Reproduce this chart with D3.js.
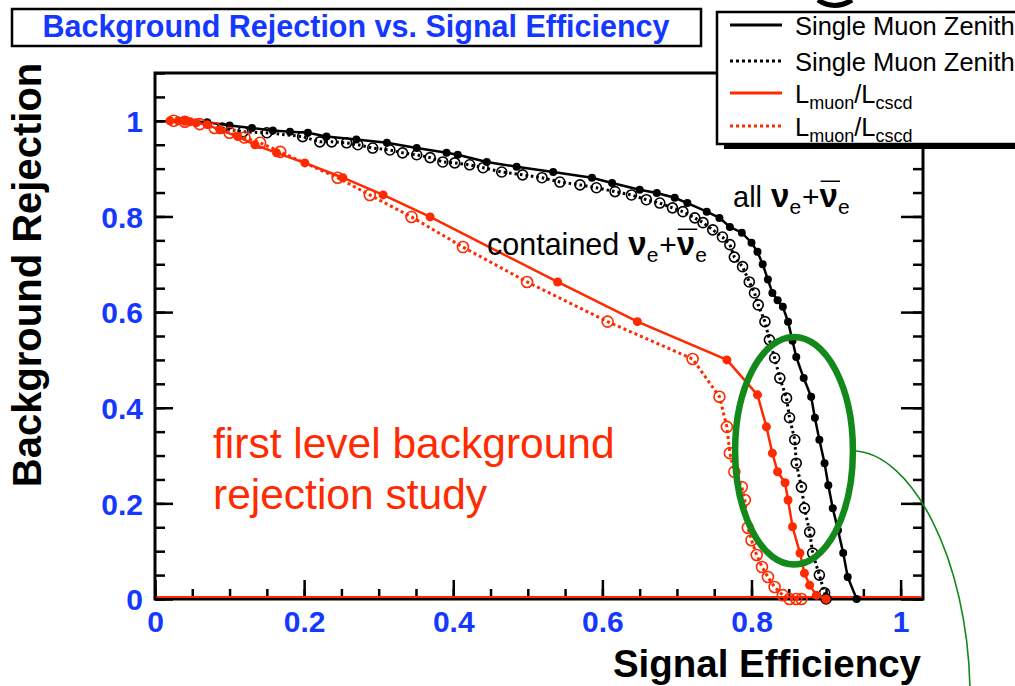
<!DOCTYPE html>
<html><head><meta charset="utf-8">
<script src="https://cdn.jsdelivr.net/npm/d3@7"></script>
<style>body{margin:0;background:#fff} svg{display:block} text{font-family:"Liberation Sans",Arial,Helvetica,sans-serif;white-space:pre}</style>
</head><body><svg id="c" width="1015" height="686"></svg>
<script>
// ---------- data ----------
const xTicks = [0, 0.2, 0.4, 0.6, 0.8, 1];
const xTickLabels = ["0", "0.2", "0.4", "0.6", "0.8", "1"];
const yTicks = [0, 0.2, 0.4, 0.6, 0.8, 1];
const yTickLabels = ["0", "0.2", "0.4", "0.6", "0.8", "1"];

const titleText = "Background Rejection vs. Signal Efficiency";
const xAxisTitle = "Signal Efficiency";
const yAxisTitle = "Background Rejection";

// Single Muon Zenith, all nu_e (black solid, filled)
const zenAllX = [0.04,0.07,0.10,0.13,0.158,0.181,0.205,0.23,0.27,0.311,0.351,0.391,0.406,0.445,0.485,0.534,0.586,0.613,0.65,0.673,0.697,0.714,0.74,0.757,0.771,0.787,0.80,0.808,0.815,0.822,0.828,0.835,0.842,0.849,0.855,0.86,0.87,0.88,0.885,0.891,0.898,0.903,0.909,0.916,0.923,0.929,0.941];
const zenAllY = [1.0,0.997,0.99,0.985,0.98,0.977,0.975,0.967,0.961,0.954,0.943,0.933,0.929,0.914,0.904,0.893,0.881,0.870,0.856,0.849,0.839,0.828,0.81,0.797,0.778,0.766,0.745,0.726,0.70,0.668,0.64,0.625,0.611,0.58,0.54,0.506,0.462,0.423,0.379,0.333,0.284,0.238,0.19,0.144,0.096,0.046,0.0];

// Single Muon Zenith, contained nu_e (black dotted, open)
const zenContX = [0.09,0.118,0.15,0.198,0.221,0.237,0.257,0.272,0.292,0.315,0.332,0.351,0.369,0.386,0.402,0.422,0.44,0.465,0.493,0.519,0.543,0.57,0.592,0.617,0.639,0.659,0.677,0.694,0.708,0.724,0.735,0.748,0.761,0.771,0.777,0.788,0.797,0.804,0.809,0.818,0.824,0.831,0.838,0.847,0.851,0.858,0.86,0.867,0.871,0.878,0.882,0.891,0.898,0.90];
const zenContY = [0.985,0.977,0.975,0.967,0.956,0.956,0.954,0.95,0.943,0.939,0.933,0.929,0.923,0.914,0.912,0.908,0.902,0.893,0.887,0.881,0.872,0.866,0.860,0.852,0.845,0.835,0.828,0.818,0.81,0.797,0.787,0.772,0.757,0.741,0.715,0.695,0.663,0.64,0.615,0.58,0.542,0.504,0.462,0.42,0.379,0.333,0.284,0.234,0.19,0.14,0.096,0.05,0.013,0.0];

// L_muon/L_cscd, all (red solid, filled)
const likAllX = [0.02,0.031,0.04,0.047,0.055,0.07,0.087,0.111,0.134,0.163,0.201,0.252,0.306,0.369,0.54,0.647,0.767,0.808,0.82,0.828,0.835,0.845,0.849,0.855,0.865,0.871,0.878,0.887,0.90];
const likAllY = [1.0,1.0,0.999,0.998,0.996,0.992,0.981,0.967,0.95,0.933,0.912,0.881,0.845,0.799,0.663,0.58,0.50,0.427,0.36,0.305,0.266,0.243,0.207,0.151,0.096,0.054,0.029,0.008,0.0];

// L_muon/L_cscd, contained (red dotted, open)
const likContX = [0.025,0.04,0.06,0.08,0.10,0.12,0.141,0.168,0.245,0.288,0.344,0.413,0.499,0.607,0.721,0.757,0.767,0.771,0.777,0.787,0.791,0.795,0.80,0.807,0.814,0.822,0.831,0.842,0.851,0.86,0.867];
const likContY = [1.0,0.998,0.993,0.985,0.975,0.965,0.954,0.935,0.881,0.845,0.799,0.736,0.663,0.58,0.502,0.423,0.36,0.305,0.266,0.234,0.207,0.149,0.123,0.092,0.067,0.046,0.025,0.008,0.0,0.0,0.0];

const legendLabels = ["Single Muon Zenith", "Single Muon Zenith", "L|muon|/L|cscd", "L|muon|/L|cscd"];

// ---------- styles ----------
const RED = "#ff2a00", BLUE = "#1438ff", GREEN = "#12891a";

const svg = d3.select("#c");
const x = d3.scaleLinear().domain([0, 1.03]).range([155, 923]);
const y = d3.scaleLinear().domain([0, 1.1]).range([599, 73]);

// frame
svg.append("rect").attr("x", x(0)).attr("y", y(1.1)).attr("width", x(1.03) - x(0)).attr("height", y(0) - y(1.1))
  .attr("fill", "none").attr("stroke", "#000").attr("stroke-width", 3);

// axes
function styleAxis(g) {
  g.select(".domain").remove();
  g.selectAll(".tick line").attr("stroke", "#000").attr("stroke-width", 2.5);
  g.selectAll(".tick text").attr("fill", BLUE).attr("font-weight", "bold").attr("font-size", 30)
    .attr("font-family", '"Liberation Sans",Arial,sans-serif');
}
const minorX = d3.range(0, 1.0001, 0.05);
const minorY = d3.range(0, 1.1001, 0.05);

svg.append("g").attr("transform", `translate(0,${y(0)})`)
  .call(d3.axisBottom(x).tickValues(minorX).tickSize(-10).tickFormat(""))
  .call(styleAxis);
svg.append("g").attr("transform", `translate(0,${y(0)})`)
  .call(d3.axisBottom(x).tickValues(xTicks).tickSize(-19).tickPadding(12).tickFormat((d, i) => xTickLabels[i]))
  .call(styleAxis);
svg.append("g").attr("transform", `translate(${x(0)},0)`)
  .call(d3.axisLeft(y).tickValues(minorY).tickSize(-10).tickFormat(""))
  .call(styleAxis);
svg.append("g").attr("transform", `translate(${x(0)},0)`)
  .call(d3.axisLeft(y).tickValues(yTicks).tickSize(-18).tickPadding(12).tickFormat((d, i) => yTickLabels[i]))
  .call(styleAxis)
  .selectAll(".tick text").attr("dy", "0.36em");
svg.append("g").attr("transform", `translate(${x(1.03)},0)`)
  .call(d3.axisRight(y).tickValues(minorY).tickSize(-10).tickFormat(""))
  .call(styleAxis);
svg.append("g").attr("transform", `translate(${x(1.03)},0)`)
  .call(d3.axisRight(y).tickValues(yTicks).tickSize(-22).tickFormat(""))
  .call(styleAxis);

// red baseline along zero
svg.append("line").attr("x1", x(0) + 1.5).attr("x2", x(1.03) - 1.5).attr("y1", y(0) - 2).attr("y2", y(0) - 2)
  .attr("stroke", RED).attr("stroke-width", 2);

// series
const series = [
  {xs: zenAllX, ys: zenAllY, color: "#000", dash: null, w: 2.5, filled: true, r: 4},
  {xs: zenContX, ys: zenContY, color: "#000", dash: "2.5,3", w: 3, filled: false, r: 5},
  {xs: likContX, ys: likContY, color: RED, dash: "3,3", w: 3, filled: false, r: 5.5},
  {xs: likAllX, ys: likAllY, color: RED, dash: null, w: 2.5, filled: true, r: 4.5}
];
const line = d3.line().x(d => x(d[0])).y(d => y(d[1]));
series.forEach(s => {
  const pts = s.xs.map((v, i) => [v, s.ys[i]]);
  const g = svg.append("g");
  g.append("path").datum(pts).attr("d", line).attr("fill", "none").attr("stroke", s.color)
    .attr("stroke-width", s.w).attr("stroke-dasharray", s.dash);
  g.selectAll("circle").data(pts).join("circle")
    .attr("cx", d => x(d[0])).attr("cy", d => y(d[1])).attr("r", s.r)
    .attr("fill", s.filled ? s.color : "none").attr("stroke", s.color).attr("stroke-width", s.filled ? 0 : 1.6);
});

// text helper with segments
function richText(x0, y0, segs, color) {
  let cx = x0;
  segs.forEach(sg => {
    const t = svg.append("text").attr("x", cx).attr("y", y0 + (sg.dy || 0)).attr("font-size", sg.size)
      .attr("font-weight", sg.bold ? "bold" : "normal").attr("fill", color).text(sg.t);
    const w = t.node().getComputedTextLength();
    if (sg.over) {
      svg.append("line").attr("x1", cx + 1).attr("x2", cx + w + 2).attr("y1", y0 - sg.size * 0.78).attr("y2", y0 - sg.size * 0.78)
        .attr("stroke", color).attr("stroke-width", 1.5);
    }
    cx += w + (sg.gap || 0);
  });
}

// annotations
richText(733, 207, [
  {t: "all", size: 29, gap: 9}, {t: "ν", size: 33, bold: true}, {t: "e", size: 21, dy: 7, gap: 1},
  {t: "+", size: 30}, {t: "ν", size: 33, bold: true, over: true}, {t: "e", size: 21, dy: 7}
], "#000");
richText(487, 255, [
  {t: "contained", size: 30.5, gap: 9}, {t: "ν", size: 33, bold: true}, {t: "e", size: 21, dy: 7, gap: 1},
  {t: "+", size: 30}, {t: "ν", size: 33, bold: true, over: true}, {t: "e", size: 21, dy: 7}
], "#000");

svg.append("text").attr("x", 213).attr("y", 458).attr("font-size", 42.5).attr("fill", RED).text("first level background");
svg.append("text").attr("x", 213).attr("y", 509).attr("font-size", 42.5).attr("fill", RED).text("rejection study");

// green ellipse + connector
svg.append("ellipse").attr("cx", x(0.857)).attr("cy", y(0.31)).attr("rx", x(0.079) - x(0)).attr("ry", y(0) - y(0.238))
  .attr("fill", "none").attr("stroke", GREEN).attr("stroke-width", 6.5);
svg.append("path").attr("d", `M${x(0.857) + (x(0.079) - x(0))},${y(0.31)} C 912,452 968,560 970,690`)
  .attr("fill", "none").attr("stroke", GREEN).attr("stroke-width", 1.6);

// axis titles
svg.append("text").attr("x", 921).attr("y", 677).attr("text-anchor", "end").attr("font-size", 38.5)
  .attr("font-weight", "bold").attr("fill", "#000").text(xAxisTitle);
svg.append("text").attr("transform", "translate(41,275) rotate(-90)").attr("text-anchor", "middle").attr("font-size", 40)
  .attr("font-weight", "bold").attr("fill", "#000").text(yAxisTitle);

// title box
svg.append("rect").attr("x", 12).attr("y", 9).attr("width", 689).attr("height", 37)
  .attr("fill", "#fff").attr("stroke", "#000").attr("stroke-width", 2.5);
svg.append("text").attr("x", 356).attr("y", 37).attr("text-anchor", "middle").attr("font-size", 30.5)
  .attr("font-weight", "bold").attr("fill", BLUE).text(titleText);

// stray glyph fragment at top (cropped slide title)
svg.append("path").attr("d", "M 818,0 Q 834,11 852,0").attr("fill", "none").attr("stroke", "#000").attr("stroke-width", 5);

// legend box with shadow
svg.append("rect").attr("x", 724).attr("y", 19).attr("width", 320).attr("height", 130).attr("fill", "#000");
svg.append("rect").attr("x", 717).attr("y", 12).attr("width", 320).attr("height", 132)
  .attr("fill", "#fff").attr("stroke", "#000").attr("stroke-width", 2.5);
const legRows = [
  {y: 25, color: "#000", dash: null},
  {y: 61, color: "#000", dash: "3,3"},
  {y: 93, color: RED, dash: null},
  {y: 126, color: RED, dash: "3,3"}
];
legRows.forEach((r, i) => {
  svg.append("line").attr("x1", 730).attr("x2", 782).attr("y1", r.y).attr("y2", r.y)
    .attr("stroke", r.color).attr("stroke-width", 3).attr("stroke-dasharray", r.dash);
  const parts = legendLabels[i].split("|");
  const t = svg.append("text").attr("x", 795).attr("y", r.y + 10).attr("font-size", 25.5).attr("fill", "#000");
  if (parts.length === 1) t.text(parts[0]);
  else {
    parts.forEach((p, k) => {
      const sub = k % 2 === 1;
      t.append("tspan").attr("font-size", sub ? 18 : 25.5)
        .attr("dy", sub ? 6 : (k > 0 ? -6 : 0)).text(p);
    });
  }
});
</script></body></html>
